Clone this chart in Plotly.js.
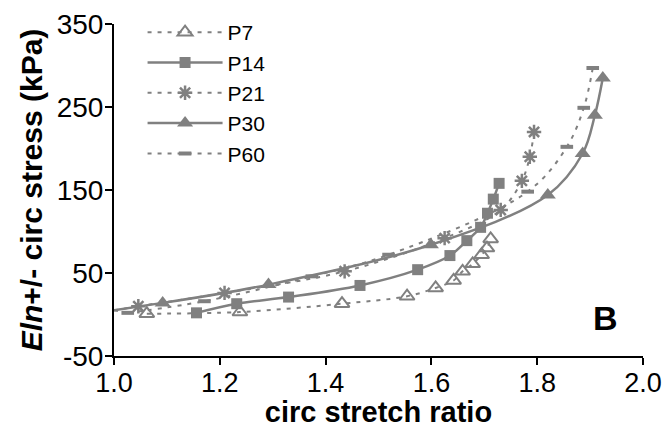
<!DOCTYPE html>
<html>
<head>
<meta charset="utf-8">
<script src="https://cdn.plot.ly/plotly-3.0.1.min.js"></script>
<style>html,body{margin:0;padding:0;background:#fff;}#chart{width:670px;height:428px;}</style>
</head>
<body>
<div id="chart"></div>
<script>
// ---- data ----
const seriesNames = ['P7', 'P14', 'P21', 'P30', 'P60'];

const p7x = [1.062, 1.238, 1.431, 1.554, 1.608, 1.642, 1.659, 1.678, 1.695, 1.705, 1.712];
const p7y = [1, 3, 13, 22, 32, 41, 52, 61, 72, 80, 91];

const p14x = [1.156, 1.232, 1.330, 1.465, 1.574, 1.635, 1.667, 1.693, 1.706, 1.717, 1.728];
const p14y = [2, 13, 21, 35, 54, 71, 89, 105, 122, 139, 158];

const p21x = [1.046, 1.209, 1.436, 1.625, 1.731, 1.771, 1.786, 1.794];
const p21y = [10, 26, 52, 92, 126, 161, 190, 220];

const p30x = [1.092, 1.292, 1.599, 1.820, 1.886, 1.909, 1.924];
const p30y = [14, 36, 84, 144, 194, 240, 285];

const p60x = [1.026, 1.171, 1.374, 1.519, 1.782, 1.856, 1.888, 1.905];
const p60y = [2, 16, 46, 72, 148, 202, 249, 297];

// common start of the curves at the y axis
const startX = 1.0;
const startY = 5;

const xTickVals = [1.0, 1.2, 1.4, 1.6, 1.8, 2.0];
const xTickText = ['1.0', '1.2', '1.4', '1.6', '1.8', '2.0'];
const yTickVals = [-50, 50, 150, 250, 350];
const yTickText = ['-50', '50', '150', '250', '350'];

// ---- styling ----
const FONT = 'Liberation Sans, Arial, sans-serif';
const GRAY = '#808080';
const dotted = {color: GRAY, width: 2, dash: '4px,6px', shape: 'spline', smoothing: 1};
const solid = {color: GRAY, width: 2.5, shape: 'spline', smoothing: 1};

const specs = [
  {x: p7x, y: p7y, line: dotted, marker: {symbol: 'triangle-up-open', size: 13, color: GRAY, line: {color: GRAY, width: 2}}},
  {x: p14x, y: p14y, line: solid, marker: {symbol: 'square', size: 11, color: GRAY}},
  {x: p21x, y: p21y, line: dotted, marker: {symbol: 'asterisk-open', size: 12, color: GRAY, line: {color: GRAY, width: 2.5}}, start: true},
  {x: p30x, y: p30y, line: solid, marker: {symbol: 'triangle-up', size: 14, color: GRAY}, start: true},
  {x: p60x, y: p60y, line: dotted, marker: {symbol: 'line-ew-open', size: 9, color: GRAY, line: {color: GRAY, width: 4}}, start: true}
];

const traces = [];
specs.forEach((s, i) => {
  if (s.start) {
    traces.push({
      x: [startX, s.x[0]], y: [startY, s.y[0]], mode: 'lines',
      line: s.line, showlegend: false, hoverinfo: 'skip', legendgroup: seriesNames[i]
    });
  }
});
specs.forEach((s, i) => {
  traces.push({
    x: s.x, y: s.y, name: seriesNames[i], mode: 'lines+markers',
    line: s.line, marker: s.marker, legendgroup: seriesNames[i], cliponaxis: false
  });
});

const layout = {
  width: 670, height: 428,
  margin: {l: 114, r: 27, t: 18, b: 72},
  paper_bgcolor: '#fff', plot_bgcolor: '#fff',
  font: {family: FONT, color: '#000'},
  showlegend: true,
  legend: {
    x: 0.054, y: 1.036, xanchor: 'left', yanchor: 'top',
    bgcolor: 'rgba(0,0,0,0)', borderwidth: 0,
    font: {family: FONT, size: 21, color: '#000'},
    itemwidth: 75, tracegroupgap: 0
  },
  xaxis: {
    range: [1, 2], tickvals: xTickVals, ticktext: xTickText,
    showgrid: false, zeroline: false,
    showline: true, linecolor: '#000', linewidth: 2,
    ticks: 'outside', ticklen: 7, tickwidth: 2, tickcolor: '#000',
    ticklabelstandoff: -5,
    tickfont: {family: FONT, size: 27, color: '#000'},
    title: {text: '<b>circ stretch ratio</b>', font: {family: FONT, size: 29, color: '#000'}, standoff: 13},
    automargin: false
  },
  yaxis: {
    range: [-50, 350], tickvals: yTickVals, ticktext: yTickText,
    showgrid: false, zeroline: false,
    showline: true, linecolor: '#000', linewidth: 2,
    ticks: 'outside', ticklen: 7, tickwidth: 2, tickcolor: '#000',
    ticklabelstandoff: -4,
    tickfont: {family: FONT, size: 28, color: '#000'},
    title: {text: '<b><i>Eln</i>+/- circ stress (kPa)</b>', font: {family: FONT, size: 30, color: '#000'}, standoff: 5},
    automargin: false
  },
  annotations: [{
    text: '<b>B</b>', xref: 'paper', yref: 'paper', x: 0.93, y: 0.113,
    xanchor: 'center', yanchor: 'middle', showarrow: false,
    font: {family: FONT, size: 34, color: '#000'}
  }]
};

Plotly.newPlot('chart', traces, layout, {displayModeBar: false, staticPlot: true});
</script>
</body>
</html>
